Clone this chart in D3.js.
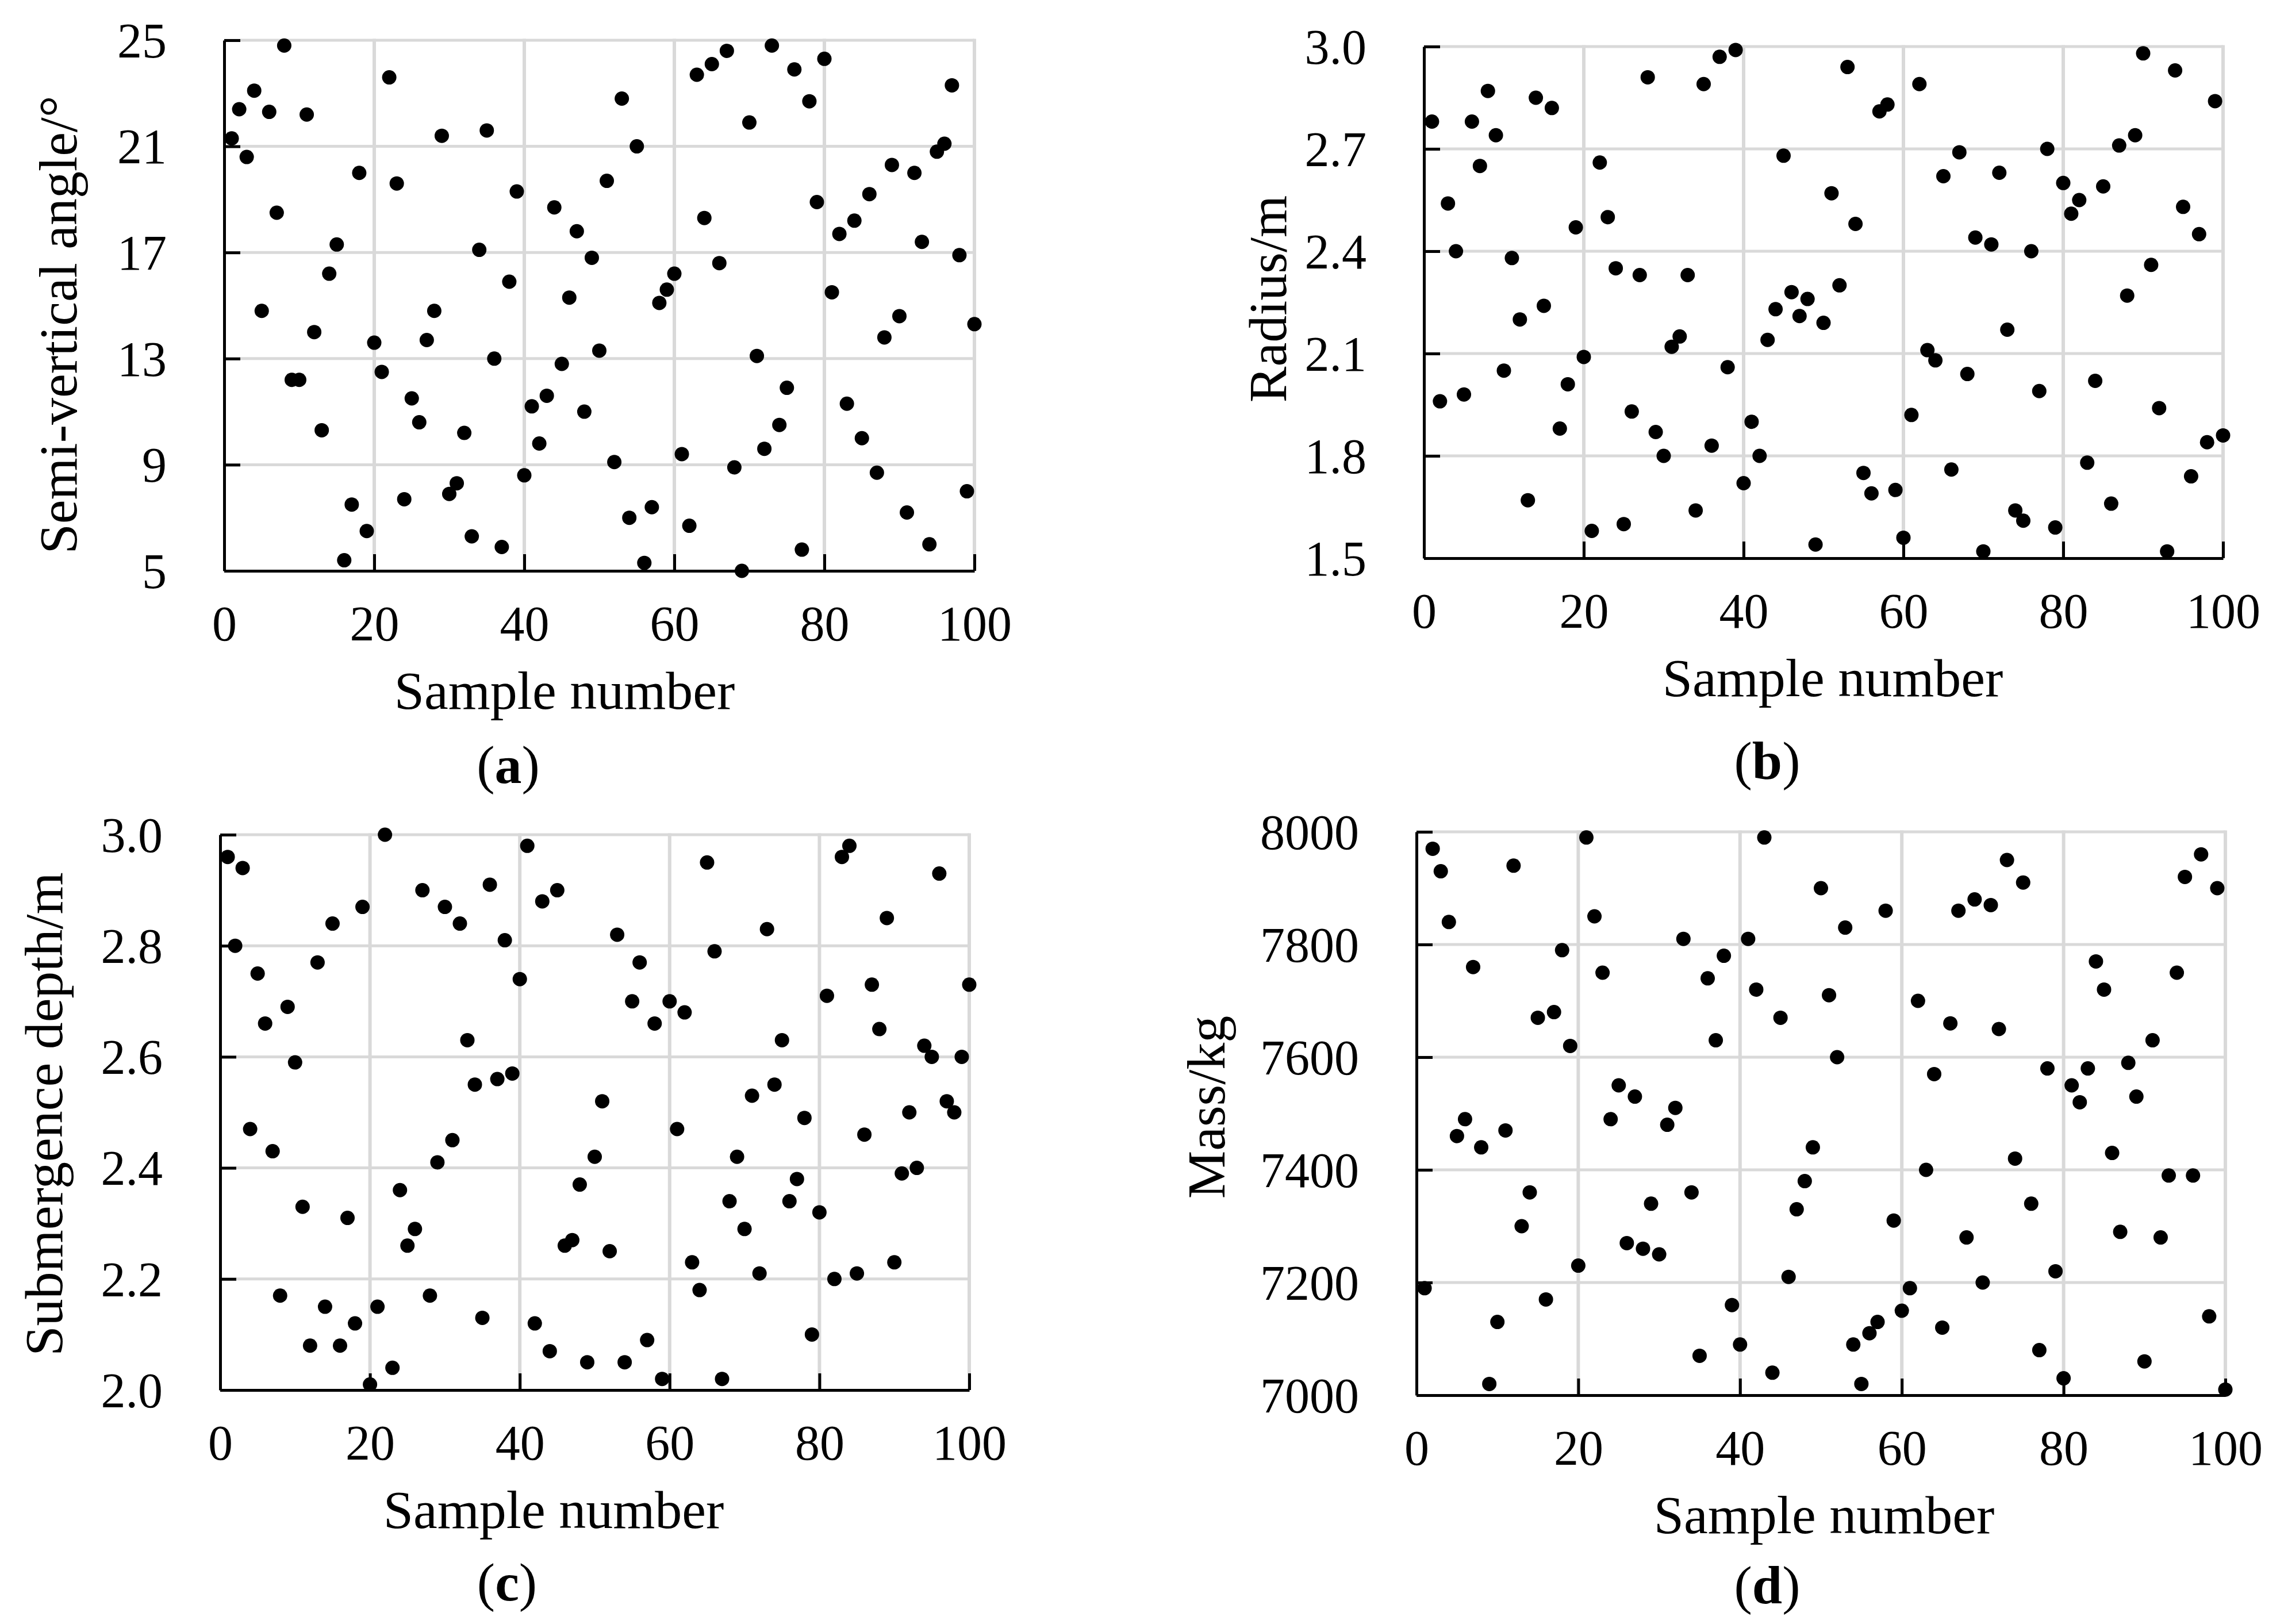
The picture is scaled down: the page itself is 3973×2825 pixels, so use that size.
<!DOCTYPE html>
<html>
<head>
<meta charset="utf-8">
<script src="https://cdn.jsdelivr.net/npm/d3@7"></script>
<style>
  body { margin: 0; background: #fff; }
  text { font-family: 'Palatino Linotype', 'Book Antiqua', Palatino, 'Liberation Serif', serif; fill: #000; }
</style>
</head>
<body>
<svg id="chart"></svg>
<script>
const width = 3973;
const height = 2825;

// x values: sample number 1..100
const sampleNumbers = d3.range(1, 101);
const xTicks = [0, 20, 40, 60, 80, 100];

// (a) semi-vertical angle
const angleValues = [
    21.3, 22.4, 20.6, 23.1, 14.8, 22.3, 18.5, 24.8, 12.2, 12.2,
    22.2, 14.0, 10.3, 16.2, 17.3, 5.4, 7.5, 20.0, 6.5, 13.6,
    12.5, 23.6, 19.6, 7.7, 11.5, 10.6, 13.7, 14.8, 21.4, 7.9,
    8.3, 10.2, 6.3, 17.1, 21.6, 13.0, 5.9, 15.9, 19.3, 8.6,
    11.2, 9.8, 11.6, 18.7, 12.8, 15.3, 17.8, 11.0, 16.8, 13.3,
    19.7, 9.1, 22.8, 7.0, 21.0, 5.3, 7.4, 15.1, 15.6, 16.2,
    9.4, 6.7, 23.7, 18.3, 24.1, 16.6, 24.6, 8.9, 5.0, 21.9,
    13.1, 9.6, 24.8, 10.5, 11.9, 23.9, 5.8, 22.7, 18.9, 24.3,
    15.5, 17.7, 11.3, 18.2, 10.0, 19.2, 8.7, 13.8, 20.3, 14.6,
    7.2, 20.0, 17.4, 6.0, 20.8, 21.1, 23.3, 16.9, 8.0, 14.3
];
const angleTicks = [5, 9, 13, 17, 21, 25];

// (b) radius
const radiusValues = [
    2.78, 1.96, 2.54, 2.40, 1.98, 2.78, 2.65, 2.87, 2.74, 2.05,
    2.38, 2.20, 1.67, 2.85, 2.24, 2.82, 1.88, 2.01, 2.47, 2.09,
    1.58, 2.66, 2.50, 2.35, 1.60, 1.93, 2.33, 2.91, 1.87, 1.80,
    2.12, 2.15, 2.33, 1.64, 2.89, 1.83, 2.97, 2.06, 2.99, 1.72,
    1.90, 1.80, 2.14, 2.23, 2.68, 2.28, 2.21, 2.26, 1.54, 2.19,
    2.57, 2.30, 2.94, 2.48, 1.75, 1.69, 2.81, 2.83, 1.70, 1.56,
    1.92, 2.89, 2.11, 2.08, 2.62, 1.76, 2.69, 2.04, 2.44, 1.52,
    2.42, 2.63, 2.17, 1.64, 1.61, 2.40, 1.99, 2.70, 1.59, 2.60,
    2.51, 2.55, 1.78, 2.02, 2.59, 1.66, 2.71, 2.27, 2.74, 2.98,
    2.36, 1.94, 1.52, 2.93, 2.53, 1.74, 2.45, 1.84, 2.84, 1.86
];
const radiusTicks = [1.5, 1.8, 2.1, 2.4, 2.7, 3.0];

// (c) submergence depth
const depthValues = [
    2.96, 2.80, 2.94, 2.47, 2.75, 2.66, 2.43, 2.17, 2.69, 2.59,
    2.33, 2.08, 2.77, 2.15, 2.84, 2.08, 2.31, 2.12, 2.87, 2.01,
    2.15, 3.00, 2.04, 2.36, 2.26, 2.29, 2.90, 2.17, 2.41, 2.87,
    2.45, 2.84, 2.63, 2.55, 2.13, 2.91, 2.56, 2.81, 2.57, 2.74,
    2.98, 2.12, 2.88, 2.07, 2.90, 2.26, 2.27, 2.37, 2.05, 2.42,
    2.52, 2.25, 2.82, 2.05, 2.70, 2.77, 2.09, 2.66, 2.02, 2.70,
    2.47, 2.68, 2.23, 2.18, 2.95, 2.79, 2.02, 2.34, 2.42, 2.29,
    2.53, 2.21, 2.83, 2.55, 2.63, 2.34, 2.38, 2.49, 2.10, 2.32,
    2.71, 2.20, 2.96, 2.98, 2.21, 2.46, 2.73, 2.65, 2.85, 2.23,
    2.39, 2.50, 2.40, 2.62, 2.60, 2.93, 2.52, 2.50, 2.60, 2.73
];
const depthTicks = [2.0, 2.2, 2.4, 2.6, 2.8, 3.0];

// (d) mass
const massValues = [
    7190, 7970, 7930, 7840, 7460, 7490, 7760, 7440, 7020, 7130,
    7470, 7940, 7300, 7360, 7670, 7170, 7680, 7790, 7620, 7230,
    7990, 7850, 7750, 7490, 7550, 7270, 7530, 7260, 7340, 7250,
    7480, 7510, 7810, 7360, 7070, 7740, 7630, 7780, 7160, 7090,
    7810, 7720, 7990, 7040, 7670, 7210, 7330, 7380, 7440, 7900,
    7710, 7600, 7830, 7090, 7020, 7110, 7130, 7860, 7310, 7150,
    7190, 7700, 7400, 7570, 7120, 7660, 7860, 7280, 7880, 7200,
    7870, 7650, 7950, 7420, 7910, 7340, 7080, 7580, 7220, 7030,
    7550, 7520, 7580, 7770, 7720, 7430, 7290, 7590, 7530, 7060,
    7630, 7280, 7390, 7750, 7920, 7390, 7960, 7140, 7900, 7010
];
const massTicks = [7000, 7200, 7400, 7600, 7800, 8000];

const svg = d3.select('#chart')
    .attr('width', width)
    .attr('height', height)
    .style('background', '#fff');

const tickFontSize = 86;
const titleFontSize = 94;
const panels = [
    { values: angleValues, ticks: angleTicks, fmt: d3.format('d'), yTitle: 'Semi-vertical angle/°', tag: 'a',
      left: 390, right: 1695, top: 70, bottom: 993, yTitleX: 101, yTitleY: 565, xTitleX: 982, capX: 884, capY: 1330 },
    { values: radiusValues, ticks: radiusTicks, fmt: d3.format('.1f'), yTitle: 'Radius/m', tag: 'b',
      left: 2477, right: 3867, top: 81, bottom: 971, yTitleX: 2205, yTitleY: 520, xTitleX: 3188, capX: 3074, capY: 1323 },
    { values: depthValues, ticks: depthTicks, fmt: d3.format('.1f'), yTitle: 'Submergence depth/m', tag: 'c',
      left: 383, right: 1686, top: 1452, bottom: 2418, yTitleX: 76, yTitleY: 1938, xTitleX: 963, capX: 882, capY: 2752 },
    { values: massValues, ticks: massTicks, fmt: d3.format('d'), yTitle: 'Mass/kg', tag: 'd',
      left: 2464, right: 3871, top: 1447, bottom: 2427, yTitleX: 2098, yTitleY: 1926, xTitleX: 3173, capX: 3074, capY: 2757 }
];

panels.forEach(p => drawPanel(p));

function drawPanel(p) {
    const g = svg.append('g');

    const x = d3.scaleLinear().domain([0, 100]).range([p.left, p.right]);
    const y = d3.scaleLinear().domain([p.ticks[0], p.ticks[p.ticks.length - 1]]).range([p.bottom, p.top]);

    // grid
    g.append('g').selectAll('line')
        .data(p.ticks.slice(1))
        .join('line')
        .attr('x1', p.left).attr('x2', p.right)
        .attr('y1', d => y(d)).attr('y2', d => y(d))
        .attr('stroke', '#d9d9d9').attr('stroke-width', 5);

    g.append('g').selectAll('line')
        .data(xTicks.slice(1))
        .join('line')
        .attr('x1', d => x(d)).attr('x2', d => x(d))
        .attr('y1', p.top - 2.5).attr('y2', p.bottom)
        .attr('stroke', '#d9d9d9').attr('stroke-width', 6);

    // axes, ticks point inward
    const yAxis = d3.axisLeft(y).tickValues(p.ticks).tickFormat(p.fmt)
        .tickSizeInner(-28).tickSizeOuter(0).tickPadding(100);
    const xAxis = d3.axisBottom(x).tickValues(xTicks).tickFormat(d3.format('d'))
        .tickSizeInner(-29).tickSizeOuter(0).tickPadding(92);

    const gy = g.append('g')
        .attr('transform', `translate(${p.left},0)`)
        .call(yAxis);
    const gx = g.append('g')
        .attr('transform', `translate(0,${p.bottom})`)
        .call(xAxis);

    [gx, gy].forEach(a => {
        a.select('.domain').attr('stroke', '#000').attr('stroke-width', 5);
        a.selectAll('.tick line').attr('stroke', '#000').attr('stroke-width', 5);
        a.selectAll('.tick text')
            .attr('font-size', tickFontSize)
            .attr('font-family', null)
            .attr('fill', '#000');
    });
    gy.selectAll('.tick text').attr('dy', '0.34em');
    gx.selectAll('.tick text').attr('dy', '0.34em');

    // points
    g.append('g').selectAll('circle')
        .data(p.values)
        .join('circle')
        .attr('cx', (d, i) => x(sampleNumbers[i]))
        .attr('cy', d => y(d))
        .attr('r', 12.5)
        .attr('fill', '#000');

    // titles
    g.append('text')
        .attr('x', p.xTitleX)
        .attr('y', p.bottom + 208)
        .attr('dy', '0.34em')
        .attr('text-anchor', 'middle')
        .attr('font-size', titleFontSize)
        .text('Sample number');

    g.append('text')
        .attr('transform', `translate(${p.yTitleX},${p.yTitleY}) rotate(-90)`)
        .attr('dy', '0.34em')
        .attr('text-anchor', 'middle')
        .attr('font-size', titleFontSize)
        .text(p.yTitle);

    const cap = g.append('text')
        .attr('x', p.capX)
        .attr('y', p.capY)
        .attr('dy', '0.34em')
        .attr('text-anchor', 'middle')
        .attr('font-size', titleFontSize);
    cap.append('tspan').text('(');
    cap.append('tspan').attr('font-weight', 'bold').text(p.tag);
    cap.append('tspan').text(')');
}
</script>
</body>
</html>
